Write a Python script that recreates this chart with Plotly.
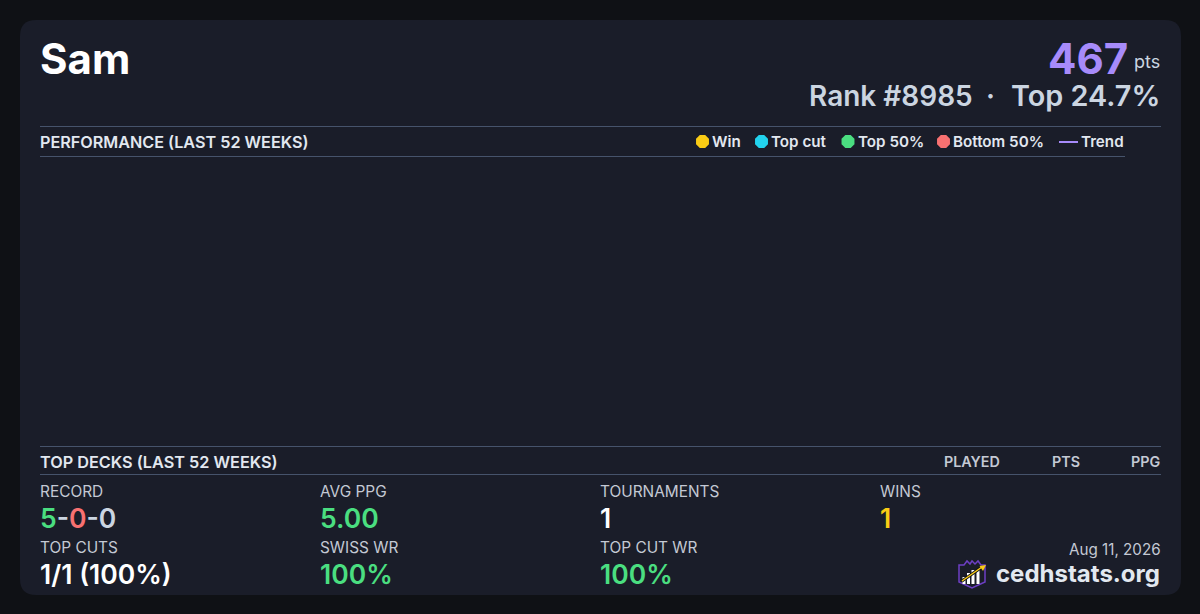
import plotly.graph_objects as go

# colours
PAGE = "#0f1115"
CARD = "#1a1d29"
RULE = "#46536b"
WHITE = "#ffffff"
SOFT = "#e2e8f0"
MUTED = "#cbd5e1"
LABEL = "#c4c9d4"
PURPLE = "#a78bfa"
GREEN = "#4ade80"
RED = "#f87171"
YELLOW = "#facc15"
CYAN = "#22d3ee"

player = "Sam"
points = "467"
rank_text = "Rank #8985"
top_text = "Top 24.7%"
snapshot_date = "Aug 11, 2026"
site = "cedhstats.org"

legend_names = ["Win", "Top cut", "Top 50%", "Bottom 50%"]
legend_colors = [YELLOW, CYAN, GREEN, RED]
legend_marker_x = [702.5, 761.5, 848, 943.5]
deck_columns = ["PLAYED", "PTS", "PPG"]
deck_column_right = [1000, 1080, 1160]

stat_labels = ["RECORD", "AVG PPG", "TOURNAMENTS", "WINS", "TOP CUTS", "SWISS WR", "TOP CUT WR"]
stat_values = [
    f'<span style="color:{GREEN}">5</span><span style="color:{MUTED}">-</span>'
    f'<span style="color:{RED}">0</span><span style="color:{MUTED}">-0</span>',
    "5.00", "1", "1", "1/1 (100%)", "100%", "100%",
]
stat_colors = [MUTED, GREEN, WHITE, YELLOW, WHITE, GREEN, GREEN]
stat_x = [40, 320, 600, 880, 40, 320, 600]
stat_y = [491.5, 491.5, 491.5, 491.5, 547.5, 547.5, 547.5]

fig = go.Figure()


def text(x, y, s, size, color, weight=400, anchor="left"):
    fig.add_annotation(x=x, y=y, text=s, showarrow=False, xanchor=anchor, yanchor="middle",
                       xref="x", yref="y", borderpad=0, borderwidth=0,
                       font=dict(family="Inter", size=size, color=color, weight=weight))


def rule(x0, x1, y):
    fig.add_shape(type="line", x0=x0, x1=x1, y0=y, y1=y, line=dict(color=RULE, width=1))


# card
fig.add_shape(type="path", line_width=0, fillcolor=CARD, layer="below",
              path="M36,20 H1165 Q1181,20 1181,36 V579 Q1181,595 1165,595 H36 Q20,595 20,579 V36 Q20,20 36,20 Z")

# header
text(40, 58.5, player, 42, WHITE, 700)
text(1128, 58, points, 42, PURPLE, 700, "right")
text(1160, 61.5, "pts", 18, MUTED, 400, "right")
text(972.5, 95.5, rank_text, 28, MUTED, 600, "right")
text(990.5, 95.5, "·", 28, MUTED, 600, "center")
text(1159.5, 95.5, top_text, 28.8, MUTED, 600, "right")

# performance section, nothing plotted in it
rule(40, 1161, 126.5)
rule(40, 1125, 156.5)
text(40, 141.5, "PERFORMANCE (LAST 52 WEEKS)", 16.2, SOFT, 600)
fig.add_trace(go.Scatter(x=legend_marker_x, y=[141.5] * 4, mode="markers", hoverinfo="skip",
                         marker=dict(size=14, color=legend_colors, symbol="octagon", line_width=0)))
for mx, name in zip(legend_marker_x, legend_names):
    text(mx + 9.5, 141.5, name, 15.2, SOFT, 600)
fig.add_shape(type="line", x0=1059, x1=1078, y0=142, y1=142, line=dict(color=PURPLE, width=2))
text(1081, 141.5, "Trend", 15.2, SOFT, 600)

# top decks section
rule(40, 1161, 446.5)
rule(40, 1161, 474.5)
text(40, 461.5, "TOP DECKS (LAST 52 WEEKS)", 16.25, SOFT, 600)
for right, name in zip(deck_column_right, deck_columns):
    text(right, 461.5, name, 14.3, LABEL, 600, "right")

# stats
for x, y, label, value, color in zip(stat_x, stat_y, stat_labels, stat_values, stat_colors):
    text(x, y, label, 15.4, LABEL)
    text(x, y + 26.5, value, 26.5, color, 600)

# footer
text(1160.5, 549.5, snapshot_date, 15.2, LABEL, 400, "right")
text(1160, 573.5, site, 24, SOFT, 700, "right")

# logo
fig.add_shape(type="path", line=dict(color="#6d3fc4", width=1.5), fillcolor="rgba(0,0,0,0)",
              path="M959,565 L964,565 L967,561 L970,564 L972,561 L975,564 L978,561 L981,565 L985,565 "
                   "L985,582 L972,588 L959,582 Z")
for bx, top in zip([964, 968.5, 973, 978], [577, 573, 570, 570]):
    fig.add_shape(type="rect", x0=bx - 1.5, x1=bx + 1.5, y0=top, y1=584, line_width=0, fillcolor=WHITE)
fig.add_shape(type="line", x0=962, y0=581, x1=982, y1=567, line=dict(color="#0f1115", width=3))
fig.add_shape(type="line", x0=962, y0=581, x1=982, y1=567, line=dict(color=YELLOW, width=1.5))
fig.add_shape(type="path", line_width=0, fillcolor=YELLOW, path="M986,565 L979.5,566 L983,571 Z")

fig.update_layout(
    width=1200, height=614, margin=dict(l=0, r=0, t=0, b=0),
    paper_bgcolor=PAGE, plot_bgcolor=PAGE, showlegend=False,
    xaxis=dict(range=[0, 1200], visible=False, fixedrange=True),
    yaxis=dict(range=[614, 0], visible=False, fixedrange=True),
)
fig.write_html("out.html", config={"displayModeBar": False},
               post_script="document.body.style.margin='0';document.body.style.background='" + PAGE + "';")
